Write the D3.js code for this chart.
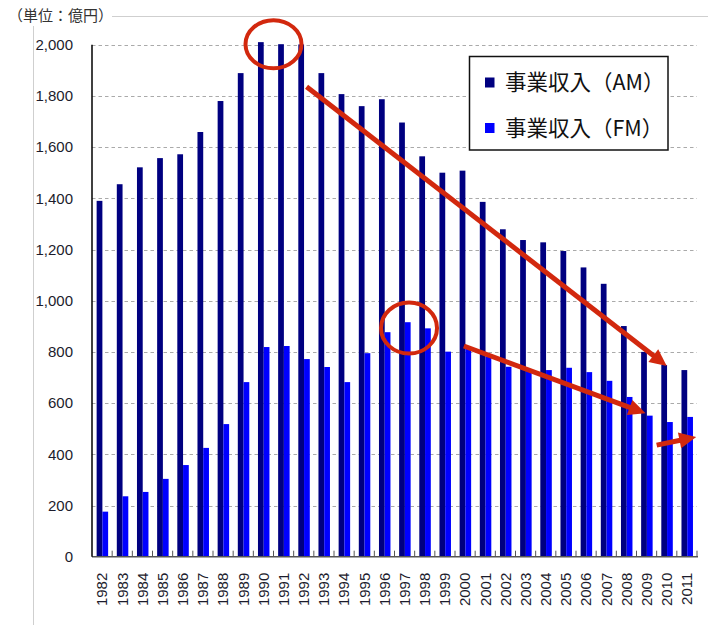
<!DOCTYPE html>
<html>
<head>
<meta charset="utf-8">
<script src="https://cdn.jsdelivr.net/npm/d3@7"></script>
<style>
  html, body { margin: 0; padding: 0; background: #fff; }
  svg { display: block; }
</style>
</head>
<body>
<svg id="chart" width="708" height="625"></svg>
<script>
// ---- data ----
const years = ["1982","1983","1984","1985","1986","1987","1988","1989","1990","1991",
               "1992","1993","1994","1995","1996","1997","1998","1999","2000","2001",
               "2002","2003","2004","2005","2006","2007","2008","2009","2010","2011"];
const amValues = [1390, 1455, 1521, 1557, 1572, 1659, 1780, 1889, 2010, 2002,
                  2001, 1889, 1807, 1760, 1787, 1696, 1564, 1500, 1508, 1386,
                  1279, 1237, 1228, 1194, 1130, 1066, 901, 800, 749, 729];
const fmValues = [176, 236, 253, 304, 358, 425, 518, 682, 819, 823,
                  772, 741, 682, 795, 877, 916, 892, 801, 818, 781,
                  742, 727, 729, 738, 721, 687, 624, 551, 526, 546];
const seriesNames = ["事業収入（AM）", "事業収入（FM）"];
const seriesColors = ["#000080", "#0000ff"];
const yTicks = [0, 200, 400, 600, 800, 1000, 1200, 1400, 1600, 1800, 2000];
const unitLabel = "（単位：億円）";

// annotations (in data coordinates: year, fraction across band, value)
const annotEllipses = [
  { year: "1991", frac: 0.0, value: 2002, rx: 28, ry: 24 },
  { year: "1997", frac: 0.72, value: 893, rx: 28, ry: 25.5 }
];
const annotArrows = [
  { from: ["1992", 0.64, 1836], to: ["2010", 0.5, 745] },
  { from: ["2000", 0.44, 823], to: ["2009", 0.45, 560] },
  { from: ["2010", 0.0, 436], to: ["2011", 0.96, 468] }
];

// ---- layout ----
const svg = d3.select("#chart");
const W = 708, H = 625;
const plot = { left: 92, right: 697, top: 44.7, bottom: 556.7 };
const latin = "'Liberation Sans', Arial, sans-serif";
const cjk = "'Noto Sans CJK JP', 'Noto Sans CJK SC', sans-serif";

const x0 = d3.scaleBand().domain(years).range([plot.left, plot.right]).padding(0);
const x1 = d3.scaleBand().domain([0, 1])
  .range([x0.bandwidth() * 0.23, x0.bandwidth() * 0.8]).padding(0);
const y = d3.scaleLinear().domain([0, 2000]).range([plot.bottom, plot.top]);

// outer frame
svg.append("line").attr("x1", 33.5).attr("x2", 33.5).attr("y1", 16.5).attr("y2", H)
  .attr("stroke", "#cfcfcf").attr("stroke-width", 1);
svg.append("line").attr("x1", 33.5).attr("x2", W).attr("y1", 16.5).attr("y2", 16.5)
  .attr("stroke", "#cfcfcf").attr("stroke-width", 1);

// unit label with white background
svg.append("rect").attr("x", 6).attr("y", 4).attr("width", 106).attr("height", 22).attr("fill", "#fff");
svg.append("text").attr("x", 8).attr("y", 15.5).attr("dy", "0.36em")
  .style("font-family", cjk).style("font-size", "15px").attr("fill", "#333")
  .text(unitLabel);

// gridlines
svg.append("g").selectAll("line").data(yTicks.filter(d => d > 0)).join("line")
  .attr("x1", plot.left).attr("x2", plot.right)
  .attr("y1", d => Math.round(y(d)) + 0.5).attr("y2", d => Math.round(y(d)) + 0.5)
  .attr("stroke", "#aaaaaa").attr("stroke-width", 1).attr("stroke-dasharray", "3.5,3");

// y axis labels
const yAxis = svg.append("g").attr("transform", `translate(${plot.left},0)`)
  .call(d3.axisLeft(y).tickValues(yTicks).tickSize(0).tickPadding(19).tickFormat(d3.format(",")));
yAxis.select(".domain").remove();
yAxis.selectAll("text").style("font-family", latin).style("font-size", "15px").attr("fill", "#1c1c2c");

// bars
const series = [amValues, fmValues];
const groups = svg.append("g").selectAll("g").data(years).join("g")
  .attr("transform", d => `translate(${x0(d)},0)`);
groups.selectAll("rect").data((d, i) => series.map((s, k) => ({ k, v: s[i] }))).join("rect")
  .attr("x", d => x1(d.k))
  .attr("width", x1.bandwidth())
  .attr("y", d => y(d.v))
  .attr("height", d => y(0) - y(d.v))
  .attr("fill", d => seriesColors[d.k]);

// x axis
const xAxis = svg.append("g").attr("transform", `translate(0,${plot.bottom})`)
  .call(d3.axisBottom(x0).tickSize(0).tickPadding(0));
xAxis.select(".domain").remove();
xAxis.selectAll("text")
  .attr("transform", "rotate(-90)")
  .attr("x", -16).attr("y", 0).attr("dy", "0.36em")
  .style("text-anchor", "end")
  .style("font-family", latin).style("font-size", "15px").attr("fill", "#1c1c2c");

// category boundary ticks
svg.append("g").selectAll("line").data(years.slice(1).concat(["end"])).join("line")
  .attr("x1", d => d === "end" ? plot.right : x0(d))
  .attr("x2", d => d === "end" ? plot.right : x0(d))
  .attr("y1", plot.bottom).attr("y2", plot.bottom - 6)
  .attr("stroke", "#555").attr("stroke-width", 1);

// axis lines
svg.append("line").attr("x1", plot.left).attr("x2", plot.right + 1)
  .attr("y1", plot.bottom).attr("y2", plot.bottom).attr("stroke", "#555").attr("stroke-width", 1.5);
svg.append("line").attr("x1", plot.left).attr("x2", plot.left)
  .attr("y1", plot.top).attr("y2", plot.bottom).attr("stroke", "#000").attr("stroke-width", 1.5);

// legend
const lg = svg.append("g");
lg.append("rect").attr("x", 469.5).attr("y", 56.5).attr("width", 198.5).attr("height", 93.5)
  .attr("fill", "#fff").attr("stroke", "#111").attr("stroke-width", 1.5);
seriesNames.forEach((name, i) => {
  const cy = 82.5 + i * 45.5;
  lg.append("rect").attr("x", 485).attr("y", cy - 5).attr("width", 9.5).attr("height", 10)
    .attr("fill", seriesColors[i]);
  lg.append("text").attr("x", 505).attr("y", cy).attr("dy", "0.36em")
    .style("font-family", cjk).style("font-size", "21.5px").attr("fill", "#111")
    .text(name);
});

// annotations
const red = "#d2280e";
const px = (yr, frac) => x0(yr) + frac * x0.bandwidth();
svg.append("g").selectAll("ellipse").data(annotEllipses).join("ellipse")
  .attr("cx", d => px(d.year, d.frac)).attr("cy", d => y(d.value))
  .attr("rx", d => d.rx).attr("ry", d => d.ry)
  .attr("fill", "none").attr("stroke", red).attr("stroke-width", 4);

const ag = svg.append("g");
annotArrows.forEach(a => {
  const xs = px(a.from[0], a.from[1]), ys = y(a.from[2]);
  const xe = px(a.to[0], a.to[1]), ye = y(a.to[2]);
  const dx = xe - xs, dy = ye - ys, len = Math.hypot(dx, dy);
  const ux = dx / len, uy = dy / len;
  const headL = 17, headW = 8;
  const bx = xe - ux * headL, by = ye - uy * headL;
  ag.append("line").attr("x1", xs).attr("y1", ys).attr("x2", bx + ux * 2).attr("y2", by + uy * 2)
    .attr("stroke", red).attr("stroke-width", 5);
  ag.append("path")
    .attr("d", `M${xe},${ye}L${bx - uy * headW},${by + ux * headW}L${bx + uy * headW},${by - ux * headW}Z`)
    .attr("fill", red);
});
</script>
</body>
</html>
